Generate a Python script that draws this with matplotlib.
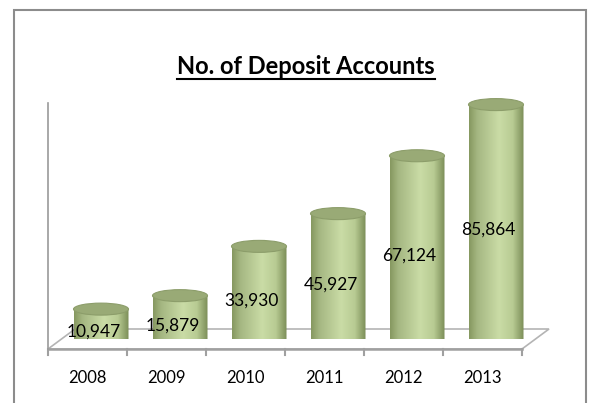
import numpy as np
import matplotlib
matplotlib.use("Agg")
import matplotlib.pyplot as plt
from matplotlib.patches import Polygon, Ellipse, Rectangle
from matplotlib.lines import Line2D
from matplotlib.colors import LinearSegmentedColormap

# ── data ──────────────────────────────────────────────
years = ["2008", "2009", "2010", "2011", "2012", "2013"]
accounts = [10947, 15879, 33930, 45927, 67124, 85864]
title = "No. of Deposit Accounts"

W, H = 593, 403
plt.rcParams["font.family"] = ["Lato", "DejaVu Sans"]

fig = plt.figure(figsize=(W / 100, H / 100), dpi=100)
# value 0 sits at pixel row 339, 100000 at row 66
ax = fig.add_axes([61.5 / W, (H - 339) / H, 474 / W, 273 / H])
ax.set_xlim(-0.5, len(years) - 0.5)
ax.set_ylim(0, 100000)
ax.axis("off")

# pixel -> data helpers
sx = len(years) / 474
sy = 100000 / 273
dx, dy = 13.5 * sx, 10 * sy          # half depth of the 3-D floor

# outer chart frame
fig.patches.append(Rectangle((14 / W, -0.05), 572 / W, 1.05 - 10 / H,
                             transform=fig.transFigure, fill=False,
                             edgecolor="#8c8c8c", lw=1.5))

# ── floor ─────────────────────────────────────────────
x0, x1 = -0.5, len(years) - 0.5
floor = Polygon([(x0 - dx, -dy), (x1 - dx, -dy), (x1 + dx, dy), (x0 + dx, dy)],
                closed=True, facecolor="white", edgecolor="#b4b4b4", lw=1.2,
                clip_on=False, zorder=1)
ax.add_patch(floor)
ax.plot([x0 - dx, x1 - dx], [-dy, -dy], color="#a0a0a0", lw=1.8,
        clip_on=False, zorder=2)
for k in range(len(years) + 1):
    xt = k - 0.5 - dx
    ax.plot([xt, xt], [-dy, -dy - 6 * sy], color="#a0a0a0", lw=1.5,
            clip_on=False, zorder=2)

# vertical axis line
ax.plot([x0 - dx, x0 - dx], [-dy, 236 * sy], color="#9a9a9a", lw=1.2,
        clip_on=False, zorder=2)

# ── cylinders ─────────────────────────────────────────
body_cmap = LinearSegmentedColormap.from_list(
    "cyl", [(0.0, "#869860"), (0.15, "#a5b782"), (0.55, "#cadca6"),
            (0.8, "#b8cb93"), (1.0, "#7b8d57")])
grad = body_cmap(np.linspace(0, 1, 128))[np.newaxis, :, :3]

hw = 27.5 * sx
ry = 6 * sy
t = np.linspace(np.pi, 2 * np.pi, 40)

for i, v in enumerate(accounts):
    bottom = list(zip(i + hw * np.cos(t), ry * np.sin(t)))
    outline = [(i - hw, v)] + bottom + [(i + hw, v)]
    clip = Polygon(outline, closed=True, transform=ax.transData)
    im = ax.imshow(grad, extent=[i - hw, i + hw, -ry, v], aspect="auto",
                   zorder=3, interpolation="bilinear")
    im.set_clip_path(clip)
    im.set_clip_on(True)
    ax.add_patch(Ellipse((i, v), 2 * hw, 2 * ry, facecolor="#99aa76",
                         edgecolor="#8c9d6a", lw=0.8, zorder=4))

    ax.text(i - 7.5 * sx, v / 2 - 8 * sy, f"{v:,}", ha="center", va="center",
            fontsize=12.5, color="black", zorder=5)
    ax.text(i - dx, -39 * sy, years[i], ha="center", va="center",
            fontsize=12, color="black", clip_on=False)

ax.set_xlim(-0.5, len(years) - 0.5)
ax.set_ylim(0, 100000)

# ── title (underlined) ────────────────────────────────
tt = fig.text(306 / W, 1 - 66 / H, title, ha="center", va="center",
              fontsize=17, fontweight="bold")
renderer = fig.canvas.get_renderer()
bb = tt.get_window_extent(renderer)
uy = bb.y0 - 1
fig.lines.append(Line2D([bb.x0 / W, bb.x1 / W], [uy / H, uy / H],
                        transform=fig.transFigure, color="black", lw=1.5))

fig.savefig("out.png", dpi=100)
